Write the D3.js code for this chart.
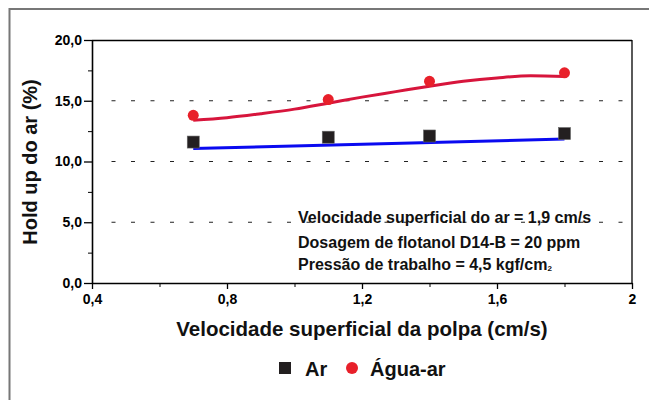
<!DOCTYPE html>
<html>
<head>
<meta charset="utf-8">
<script src="https://cdn.jsdelivr.net/npm/d3@7"></script>
<style>
  body { margin: 0; background: #fff; }
  svg { display: block; }
  text { font-family: "Liberation Sans", Arial, sans-serif; font-weight: 700; }
  .axis path, .axis line { stroke: #000; }
  .axis text { font-family: "Liberation Sans", Arial, sans-serif; font-size: 14px; font-weight: 700; fill: #000; }
</style>
</head>
<body>
<div id="chart"></div>
<script>
// measured points
var xValues = [0.7, 1.1, 1.4, 1.8];
var arValues = [11.6, 12.0, 12.1, 12.3];
var aguaArValues = [13.8, 15.1, 16.6, 17.3];

// fitted curves
var arFitX = [0.7, 1.8];
var arFit = [11.07, 11.85];
var aguaFitX = [0.7, 0.8, 0.9, 1.0, 1.1, 1.2, 1.3, 1.4, 1.5, 1.6, 1.7, 1.8];
var aguaFit = [13.4, 13.6, 13.93, 14.31, 14.8, 15.3, 15.75, 16.2, 16.6, 16.88, 17.05, 17.0];

var xTicks = [0.4, 0.8, 1.2, 1.6, 2];
var xMinorTicks = [0.6, 1.0, 1.4, 1.8];
var yTicks = [0, 5, 10, 15, 20];
var yMinorTicks = [2.5, 7.5, 12.5, 17.5];
var gridValues = [5, 10, 15];

var notes = [
  "Velocidade superficial do ar = 1,9 cm/s",
  "Dosagem de flotanol D14-B = 20 ppm",
  "Pressão de trabalho = 4,5 kgf/cm"
];

var w = 649, h = 400;
var margin = { top: 40, right: 17, bottom: 117, left: 92 };
var width = w - margin.left - margin.right,
    height = h - margin.top - margin.bottom;

var svg = d3.select("#chart").append("svg").attr("width", w).attr("height", h);

// outer frame (only top and left visible)
svg.append("rect")
  .attr("x", 9.5).attr("y", 9)
  .attr("width", 700).attr("height", 500)
  .attr("fill", "none")
  .attr("stroke", "#777")
  .attr("stroke-width", 2);

var x = d3.scaleLinear().domain([0.4, 2]).range([0, width]);
var y = d3.scaleLinear().domain([0, 20]).range([height, 0]);

var g = svg.append("g").attr("transform", "translate(" + margin.left + "," + margin.top + ")");

// dotted grid lines
g.selectAll(".grid").data(gridValues).enter().append("line")
  .attr("class", "grid")
  .attr("x1", x(0.4) + 19.5)
  .attr("x2", x(2))
  .attr("y1", function(d) { return y(d); })
  .attr("y2", function(d) { return y(d); })
  .attr("stroke", "#222")
  .attr("stroke-width", 1.2)
  .attr("stroke-dasharray", "4,15.5");

// top and right frame of plot
g.append("line").attr("x1", 0).attr("x2", width).attr("y1", 0.5).attr("y2", 0.5)
  .attr("stroke", "#000").attr("stroke-width", 1.3);
g.append("line").attr("x1", width).attr("x2", width).attr("y1", 0).attr("y2", height)
  .attr("stroke", "#000").attr("stroke-width", 1.3);

// axes
var fmtX = function(d) { return d === 2 ? "2" : d.toFixed(1).replace(".", ","); };
var fmtY = function(d) { return d.toFixed(1).replace(".", ","); };

g.append("g").attr("class", "axis axis--x")
  .attr("transform", "translate(0," + height + ")")
  .call(d3.axisBottom(x).tickValues(xTicks).tickFormat(fmtX).tickSize(6).tickSizeOuter(0).tickPadding(5))
  .call(function(s) {
    s.attr("font-family", null).attr("font-size", null);
    s.select(".domain").attr("stroke-width", 1.6);
    s.selectAll(".tick line").attr("stroke-width", 1.3);
  });

g.append("g").attr("class", "axis")
  .attr("transform", "translate(0," + height + ")")
  .call(d3.axisBottom(x).tickValues(xMinorTicks).tickFormat("").tickSize(4).tickSizeOuter(0))
  .call(function(s) { s.select(".domain").remove(); });

g.append("g").attr("class", "axis axis--y")
  .call(d3.axisLeft(y).tickValues(yTicks).tickFormat(fmtY).tickSize(8).tickSizeOuter(0).tickPadding(2))
  .call(function(s) {
    s.attr("font-family", null).attr("font-size", null);
    s.select(".domain").attr("stroke-width", 1.6);
    s.selectAll(".tick line").attr("stroke-width", 1.3);
  });

g.append("g").attr("class", "axis")
  .call(d3.axisLeft(y).tickValues(yMinorTicks).tickFormat("").tickSize(4).tickSizeOuter(0))
  .call(function(s) { s.select(".domain").remove(); });

// fitted lines
var line = d3.line()
  .x(function(d) { return x(d[0]); })
  .y(function(d) { return y(d[1]); })
  .curve(d3.curveMonotoneX);

g.append("path")
  .datum(d3.zip(arFitX, arFit))
  .attr("fill", "none").attr("stroke", "#0a0af0").attr("stroke-width", 3)
  .attr("d", line);

g.append("path")
  .datum(d3.zip(aguaFitX, aguaFit))
  .attr("fill", "none").attr("stroke", "#d7153c").attr("stroke-width", 3)
  .attr("d", line);

// markers
var sq = 12;
g.selectAll(".ar").data(d3.zip(xValues, arValues)).enter().append("rect")
  .attr("class", "ar")
  .attr("x", function(d) { return x(d[0]) - sq / 2; })
  .attr("y", function(d) { return y(d[1]) - sq / 2; })
  .attr("width", sq).attr("height", sq)
  .attr("fill", "#231f20").attr("stroke", "#666").attr("stroke-width", 0.6);

g.selectAll(".agua").data(d3.zip(xValues, aguaArValues)).enter().append("circle")
  .attr("class", "agua")
  .attr("cx", function(d) { return x(d[0]); })
  .attr("cy", function(d) { return y(d[1]); })
  .attr("r", 5.5)
  .attr("fill", "#e8202a");

// annotation
var noteY = [223, 248, 270];
notes.forEach(function(t, i) {
  var txt = g.append("text")
    .attr("x", 206)
    .attr("y", noteY[i] - margin.top)
    .attr("font-size", "16px")
    .attr("font-weight", "bold")
    .attr("fill", "#111")
    .text(t);
  if (i === 2) {
    txt.append("tspan").attr("font-size", "8px").attr("dy", 1).text("2");
  }
});

// axis titles
svg.append("text")
  .attr("x", 362).attr("y", 336)
  .attr("text-anchor", "middle")
  .attr("font-size", "20.5px")
  .attr("font-weight", "bold")
  .attr("fill", "#111")
  .text("Velocidade superficial da polpa (cm/s)");

svg.append("text")
  .attr("transform", "translate(37,162) rotate(-90)")
  .attr("text-anchor", "middle")
  .attr("font-size", "20px")
  .attr("font-weight", "bold")
  .attr("fill", "#111")
  .text("Hold up do ar (%)");

// legend
var legend = svg.append("g").attr("font-weight", "bold");
legend.append("rect").attr("x", 279).attr("y", 362).attr("width", 12).attr("height", 12)
  .attr("fill", "#231f20");
legend.append("text").attr("x", 305).attr("y", 376).attr("font-size", "20px").attr("fill", "#111").text("Ar");
legend.append("circle").attr("cx", 352).attr("cy", 368).attr("r", 6).attr("fill", "#e8202a");
legend.append("text").attr("x", 370).attr("y", 376).attr("font-size", "20px").attr("fill", "#111").text("Água-ar");
</script>
</body>
</html>
